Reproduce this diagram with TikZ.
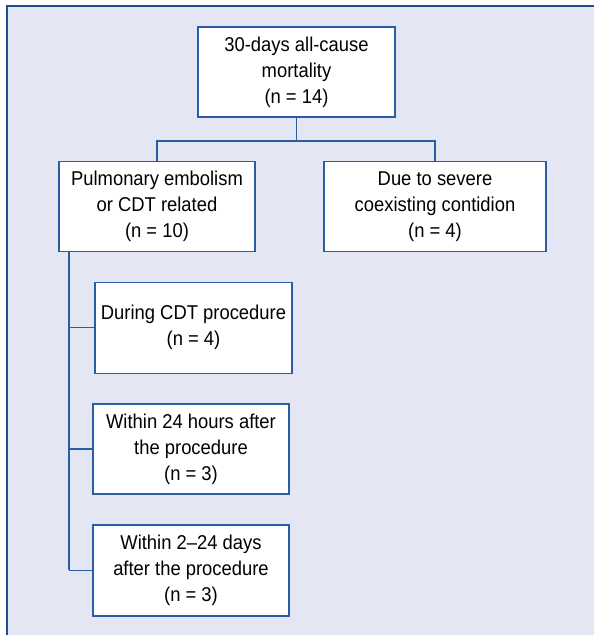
\documentclass[tikz,border=0pt]{standalone}
\usepackage{fontspec}
\setmainfont[FakeStretch=0.92]{Liberation Sans}
\definecolor{bgc}{HTML}{E4E7F3}
\definecolor{frame}{HTML}{1F4E96}
\definecolor{lnc}{HTML}{2B5DA3}
\begin{document}
\begin{tikzpicture}[x=1pt,y=-1pt,
  box/.style={draw=lnc, fill=white, line width=1.3pt, inner sep=0pt, align=center,
    font=\fontsize{20}{26}\selectfont},
  conn/.style={draw=lnc, line width=1.3pt}]
\useasboundingbox (0,0) rectangle (594,635);
\fill[bgc] (6,5) rectangle (594,635);
\draw[frame, line width=1.8pt] (6.9,635) -- (6.9,5.9) -- (594,5.9);
% nodes
\node[box, minimum width=197pt, minimum height=90pt] (top) at (296.5,72) {30-days all-cause\\mortality\\(n = 14)};
\node[box, minimum width=196pt, minimum height=90pt] (left) at (157,206.5) {Pulmonary embolism\\or CDT related\\(n = 10)};
\node[box, minimum width=222pt, minimum height=90pt] (right) at (435,206.5) {Due to severe\\coexisting contidion\\(n = 4)};
\node[box, minimum width=197pt, minimum height=91pt] (c1) at (193.5,327.8) {During CDT procedure\\(n = 4)};
\node[box, minimum width=196pt, minimum height=90pt] (c2) at (191,449) {Within 24 hours after\\the procedure\\(n = 3)};
\node[box, minimum width=196pt, minimum height=91pt] (c3) at (191,570.5) {Within 2–24 days\\after the procedure\\(n = 3)};
% connectors
\coordinate (bar) at (296.5,141);
\coordinate (tb) at (69,569.5);
\draw[conn] (top.south) -- (bar);
\draw[conn] (left.north) |- (bar) -| (right.north);
\draw[conn] (left.south -| tb) -- (tb);
\draw[conn] (tb |- c1.west) -- (c1.west);
\draw[conn] (tb |- c2.west) -- (c2.west);
\draw[conn] (tb |- c3.west) -- (c3.west);
\end{tikzpicture}
\end{document}
